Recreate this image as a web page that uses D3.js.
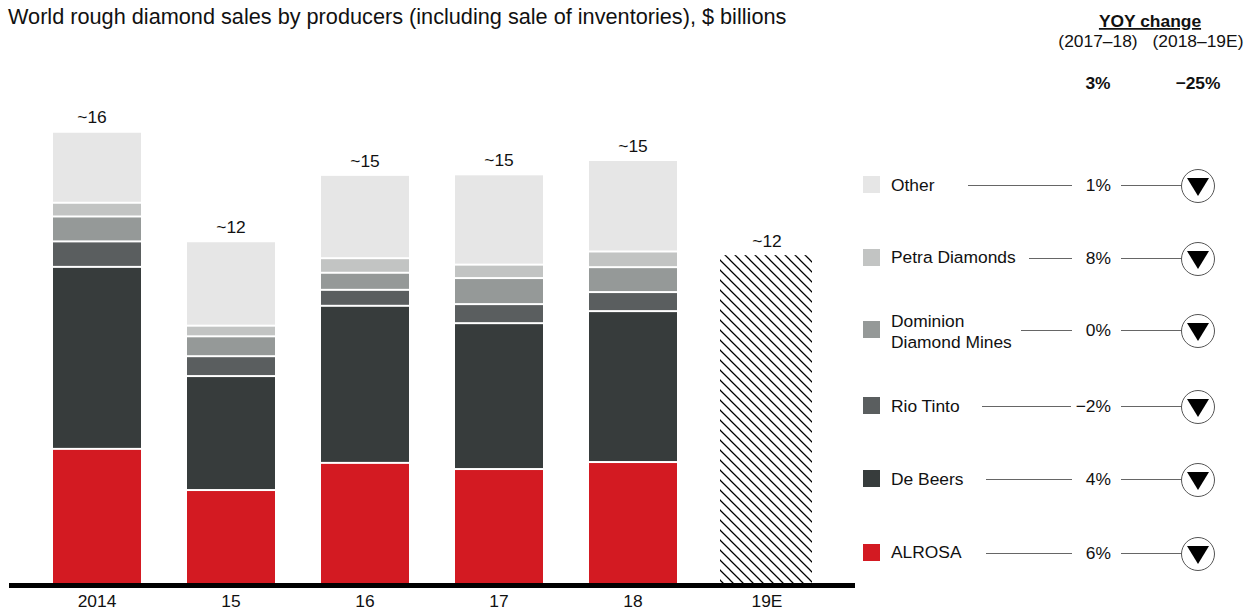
<!DOCTYPE html>
<html><head><meta charset="utf-8">
<script src="https://cdnjs.cloudflare.com/ajax/libs/d3/7.8.5/d3.min.js"></script>
<style>
html,body{margin:0;padding:0;background:#fff}
svg{display:block}
text{font-family:"Liberation Sans",Arial,sans-serif;fill:#111}
</style></head><body><svg id="chart" width="1254" height="612"></svg>
<script>
// Rough diamond sales by producer, $ billions
const years = ["2014","15","16","17","18","19E"];
const seriesNames = ["ALROSA","De Beers","Rio Tinto","Dominion Mines","Petra Diamonds","Other"];
const alrosa = [4.79,3.32,4.29,4.07,4.32];
const deBeers = [6.50,4.07,5.61,5.21,5.39];
const rioTinto = [0.91,0.71,0.57,0.68,0.68];
const dominion = [0.89,0.71,0.61,0.93,0.89];
const petra = [0.49,0.38,0.52,0.48,0.56];
const other = [2.50,2.98,2.94,3.19,3.23];
const forecastTotal = 11.71;
const totalLabels = ["~16","~12","~15","~15","~15","~12"];
const colors = ["#d31a22","#373c3c","#5a5e5f","#959998","#c2c4c3","#e6e6e6"];

const legendLabels = [["Other"],["Petra Diamonds"],["Dominion","Diamond Mines"],["Rio Tinto"],["De Beers"],["ALROSA"]];
const legendColors = ["#e6e6e6","#c2c4c3","#959998","#5a5e5f","#373c3c","#d31a22"];
const yoy = ["1%","8%","0%","\u22122%","4%","6%"];
const leaderStart = [968,1029,1021,982,986,986];
const leaderEnd = [1072,1072,1072,1071,1072,1072];
const rowY = [185,258,330,406,479,553];
const labelOffset = [5.5,4.5,6.5,5.5,5.5,4.5];
const fontSize = 17.4;

const svg = d3.select("#chart");
const x = d3.scaleBand().domain(years).range([30,834]).paddingInner(46/134).paddingOuter(23/134);
const y = d3.scaleLinear().domain([0,20]).range([583,23]);

// Stacked bars for the reported years, with a thin white gap between segments
const rows = years.slice(0,5).map((yr,i)=>({year:yr,values:[alrosa[i],deBeers[i],rioTinto[i],dominion[i],petra[i],other[i]]}));
const stack = d3.stack().keys(d3.range(6)).value((d,k)=>d.values[k]);
const layers = stack(rows);
svg.append("g").selectAll("g").data(layers).join("g")
  .attr("fill",(d,i)=>colors[i])
  .each(function(layer,li){
    d3.select(this).selectAll("rect").data(layer.map(s=>({s,year:s.data.year}))).join("rect")
      .attr("x",d=>x(d.year)).attr("width",x.bandwidth())
      .attr("y",d=>y(d.s[1])+(li<5?1:0))
      .attr("height",d=>y(d.s[0])-y(d.s[1])-(li<5?1:0)-(li>0?1:0));
  });

// Hatched estimate bar
const hatch = svg.append("defs").append("pattern").attr("id","hatch").attr("patternUnits","userSpaceOnUse")
  .attr("width",10).attr("height",10);
hatch.append("path").attr("d","M-1,-1L11,11M-1,9L1,11M9,-1L11,1")
  .attr("stroke","#000").attr("stroke-width",1.25).attr("fill","none");
svg.append("rect").attr("x",x("19E")-3).attr("width",x.bandwidth()+4)
  .attr("y",y(forecastTotal)).attr("height",y(0)-y(forecastTotal)).attr("fill","url(#hatch)");

// Totals above each bar
const totals = rows.map(r=>d3.sum(r.values)).concat([forecastTotal]);
svg.append("g").selectAll("text").data(years).join("text")
  .attr("x",d=>x(d)+x.bandwidth()/2-(d==="2014"?5:0))
  .attr("y",(d,i)=>y(totals[i])-(d==="2014"?10:d==="19E"?8:9))
  .attr("text-anchor","middle").attr("font-size",fontSize)
  .text((d,i)=>totalLabels[i]);

// Baseline and year labels
svg.append("line").attr("x1",9).attr("x2",855).attr("y1",585.5).attr("y2",585.5).attr("stroke","#000").attr("stroke-width",5);
const xAxis = d3.axisBottom(x).tickSize(0).tickPadding(0);
const ax = svg.append("g").attr("transform","translate(0,591)").call(xAxis);
ax.select(".domain").remove();
ax.selectAll("text").attr("font-size",fontSize).attr("font-family",'"Liberation Sans",Arial,sans-serif').attr("fill","#111").attr("dy","0.9em");

// Title and YOY header
svg.append("text").attr("x",8).attr("y",24).attr("font-size",21.7).text("World rough diamond sales by producers (including sale of inventories), $ billions");
svg.append("text").attr("x",1150).attr("y",27).attr("text-anchor","middle").attr("font-size",fontSize).attr("font-weight","bold").attr("text-decoration","underline").text("YOY change");
svg.append("text").attr("x",1098).attr("y",47).attr("text-anchor","middle").attr("font-size",fontSize).text("(2017\u201318)");
svg.append("text").attr("x",1198).attr("y",47).attr("text-anchor","middle").attr("font-size",fontSize).text("(2018\u201319E)");
svg.append("text").attr("x",1098).attr("y",89).attr("text-anchor","middle").attr("font-size",fontSize).attr("font-weight","bold").text("3%");
svg.append("text").attr("x",1198).attr("y",89).attr("text-anchor","middle").attr("font-size",fontSize).attr("font-weight","bold").text("\u221225%");

// Legend rows with YOY values and direction markers
const row = svg.append("g").selectAll("g").data(legendLabels).join("g");
row.append("rect").attr("x",863).attr("y",(d,i)=>rowY[i]-9).attr("width",17).attr("height",17).attr("fill",(d,i)=>legendColors[i]);
row.each(function(lines,i){
  const g = d3.select(this);
  lines.forEach((t,j)=>{
    g.append("text").attr("x",891).attr("y",rowY[i]+labelOffset[i]+(lines.length>1?(j*21-9.5):0)).attr("font-size",fontSize).text(t);
  });
  g.append("line").attr("x1",leaderStart[i]).attr("x2",leaderEnd[i]).attr("y1",rowY[i]+0.5).attr("y2",rowY[i]+0.5).attr("stroke","#666").attr("stroke-width",1);
  g.append("text").attr("x",1111).attr("y",rowY[i]+5.5).attr("text-anchor","end").attr("font-size",fontSize).text(yoy[i]);
  g.append("line").attr("x1",1121).attr("x2",1182).attr("y1",rowY[i]+0.5).attr("y2",rowY[i]+0.5).attr("stroke","#666").attr("stroke-width",1);
  g.append("circle").attr("cx",1198).attr("cy",rowY[i]+1).attr("r",16.5).attr("fill","#fff").attr("stroke","#555").attr("stroke-width",1);
  g.append("path").attr("transform",`translate(1198,${rowY[i]+1})`).attr("d","M-11,-8L11,-8L0,10Z").attr("fill","#000");
});
</script></body></html>
